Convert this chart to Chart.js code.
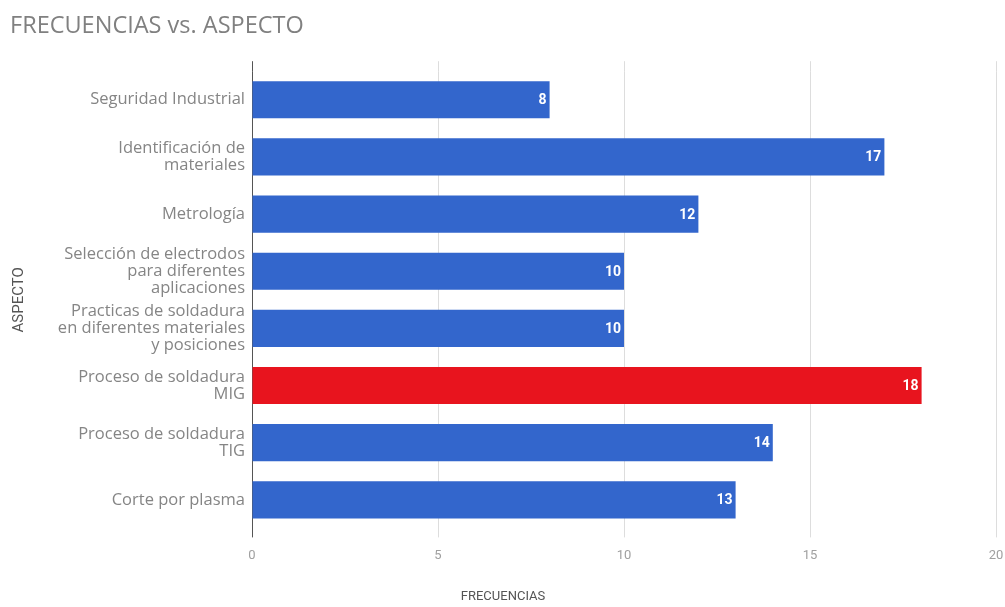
<!DOCTYPE html>
<html>
<head>
<meta charset="utf-8">
<script src="https://cdn.jsdelivr.net/npm/chart.js@4"></script>
<style>
  html, body { margin: 0; padding: 0; background: #fff; }
  #wrap { width: 1005px; height: 607px; }
</style>
</head>
<body>
<div id="wrap"><canvas id="chart"></canvas></div>
<script>
// data
const aspectos = [
    'Seguridad Industrial',
    ['Identificación de', 'materiales'],
    'Metrología',
    ['Selección de electrodos', 'para diferentes', 'aplicaciones'],
    ['Practicas de soldadura', 'en diferentes materiales', 'y posiciones'],
    ['Proceso de soldadura', 'MIG'],
    ['Proceso de soldadura', 'TIG'],
    'Corte por plasma'
];
const frecuencias = [8, 17, 12, 10, 10, 18, 14, 13];
const barColors = ['#3366cc', '#3366cc', '#3366cc', '#3366cc', '#3366cc', '#e8141e', '#3366cc', '#3366cc'];
const xTicks = [0, 5, 10, 15, 20];

Chart.defaults.font.family = 'Roboto, "Noto Sans", sans-serif';

// white numbers at the end of each bar
const barValues = {
    id: 'barValues',
    afterDatasetsDraw(chart) {
        const c = chart.ctx;
        const meta = chart.getDatasetMeta(0);
        c.save();
        c.font = 'bold 14px Roboto, sans-serif';
        c.fillStyle = '#ffffff';
        c.textAlign = 'right';
        c.textBaseline = 'middle';
        meta.data.forEach((bar, i) => {
            c.fillText(frecuencias[i], bar.x - 3, bar.y + 1);
        });
        c.restore();
    }
};

// gridlines stick out a little above the plot like the original
const gridTop = {
    id: 'gridTop',
    beforeDatasetsDraw(chart) {
        const c = chart.ctx;
        const area = chart.chartArea;
        const xs = chart.scales.x;
        c.save();
        c.lineWidth = 1;
        xTicks.forEach(v => {
            const px = Math.round(xs.getPixelForValue(v)) + 0.5;
            c.strokeStyle = v === 0 ? '#555555' : '#dddddd';
            c.beginPath();
            c.moveTo(px, area.top - 10);
            c.lineTo(px, area.top);
            c.stroke();
        });
        c.restore();
    }
};

new Chart(document.getElementById('chart'), {
    type: 'bar',
    data: {
        labels: aspectos,
        datasets: [{
            data: frecuencias,
            backgroundColor: barColors,
            categoryPercentage: 1,
            barPercentage: 0.65
        }]
    },
    options: {
        indexAxis: 'y',
        responsive: true,
        maintainAspectRatio: false,
        animation: false,
        layout: { padding: { left: 10, right: 9, top: 0, bottom: 0 } },
        plugins: {
            legend: { display: false },
            tooltip: { enabled: false },
            title: {
                display: true,
                text: 'FRECUENCIAS vs. ASPECTO',
                align: 'start',
                color: '#808080',
                font: { family: '"Open Sans", Roboto, sans-serif', size: 23.5, weight: 'normal' },
                padding: { top: 12, bottom: 31 }
            },
            subtitle: {
                display: true,
                position: 'bottom',
                text: 'FRECUENCIAS',
                color: '#555555',
                font: { size: 13, weight: 'normal' },
                padding: { top: 21, bottom: 2 }
            }
        },
        scales: {
            x: {
                min: 0,
                max: 20,
                afterBuildTicks(scale) {
                    scale.ticks = xTicks.map(v => ({ value: v }));
                },
                afterFit(scale) {
                    scale.height = 40;
                    scale.paddingRight = 0;
                },
                grid: {
                    color: ctx => ctx.tick && ctx.tick.value === 0 ? '#555555' : '#dddddd',
                    tickLength: 9
                },
                border: { display: false },
                ticks: { color: '#a0a0a0', font: { size: 13 }, padding: 11 }
            },
            y: {
                afterFit(scale) { scale.width = 242; },
                grid: { display: false, drawTicks: false },
                border: { display: false },
                ticks: {
                    color: '#858585',
                    font: { family: '"Open Sans", Roboto, sans-serif', size: 16.5, lineHeight: '17px' },
                    padding: 7,
                    autoSkip: false
                },
                title: {
                    display: true,
                    text: 'ASPECTO',
                    color: '#555555',
                    font: { size: 15 },
                    padding: 0
                }
            }
        }
    },
    plugins: [barValues, gridTop]
});
</script>
</body>
</html>
